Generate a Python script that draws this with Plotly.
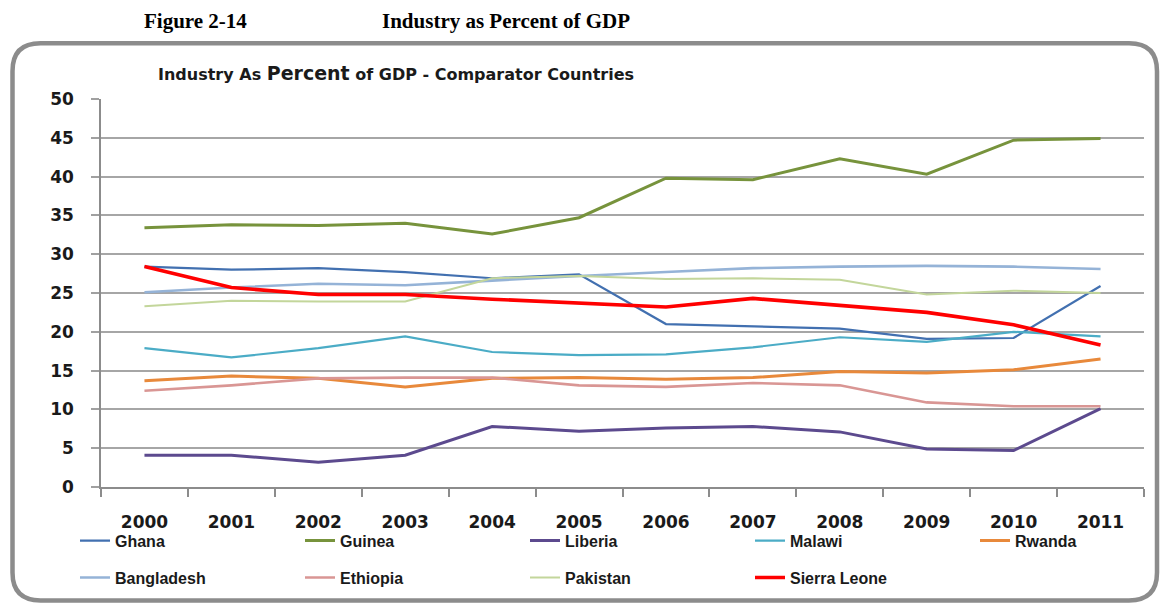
import plotly.graph_objects as go

# Industry value added as % of GDP, 2000-2011
years = ["2000", "2001", "2002", "2003", "2004", "2005",
         "2006", "2007", "2008", "2009", "2010", "2011"]

ghana = [28.4, 28.0, 28.2, 27.7, 26.9, 27.4, 21.0, 20.7, 20.4, 19.1, 19.2, 25.9]
guinea = [33.4, 33.8, 33.7, 34.0, 32.6, 34.7, 39.8, 39.6, 42.3, 40.3, 44.7, 44.9]
liberia = [4.1, 4.1, 3.2, 4.1, 7.8, 7.2, 7.6, 7.8, 7.1, 4.9, 4.7, 10.1]
malawi = [17.9, 16.7, 17.9, 19.4, 17.4, 17.0, 17.1, 18.0, 19.3, 18.7, 20.0, 19.4]
rwanda = [13.7, 14.3, 14.0, 12.9, 14.0, 14.1, 13.9, 14.1, 14.9, 14.7, 15.1, 16.5]
bangladesh = [25.1, 25.7, 26.2, 26.0, 26.6, 27.2, 27.7, 28.2, 28.4, 28.5, 28.4, 28.1]
ethiopia = [12.4, 13.1, 14.0, 14.1, 14.1, 13.1, 12.9, 13.4, 13.1, 10.9, 10.4, 10.4]
pakistan = [23.3, 24.0, 23.9, 23.9, 26.9, 27.2, 26.8, 26.9, 26.7, 24.8, 25.3, 25.0]
sierra_leone = [28.4, 25.7, 24.8, 24.8, 24.2, 23.7, 23.2, 24.3, 23.4, 22.5, 20.9, 18.3]

W, H = 1161, 607
ML, MR, MT, MB = 101, 17, 99, 118
PW, PH = W - ML - MR, H - MT - MB


def px(x):
    return (x - ML) / PW


def py(y):
    return (H - MB - y) / PH


# name, values, colour, width, legend row, legend entry width
series = [
    ("Ghana", ghana, "#4270B0", 2.2, "legend", 180),
    ("Guinea", guinea, "#77933C", 3.0, "legend", 180),
    ("Liberia", liberia, "#5C4A8E", 3.0, "legend", 180),
    ("Malawi", malawi, "#4BACC6", 2.2, "legend", 180),
    ("Rwanda", rwanda, "#E8893B", 3.0, "legend", 80),
    ("Bangladesh", bangladesh, "#95B3D7", 2.6, "legend2", 180),
    ("Ethiopia", ethiopia, "#D99694", 2.6, "legend2", 180),
    ("Pakistan", pakistan, "#C3D69B", 2.0, "legend2", 180),
    ("Sierra Leone", sierra_leone, "#FF0000", 3.6, "legend2", 120),
]

fig = go.Figure()
for name, vals, color, width, leg, lw in series:
    fig.add_trace(go.Scatter(
        x=years, y=vals, name=name, mode="lines",
        line=dict(color=color, width=width),
        legend=leg, legendwidth=lw,
    ))

# rounded frame around the chart
x0, x1, y0, y1, r = 12.5, 1157, 43, 603, 28
frame = (
    f"M {px(x0)},{py(y0 + r)} "
    f"Q {px(x0)},{py(y0)} {px(x0 + r)},{py(y0)} "
    f"L {px(x1 - r)},{py(y0)} "
    f"Q {px(x1)},{py(y0)} {px(x1)},{py(y0 + r)} "
    f"L {px(x1)},{py(y1 - r)} "
    f"Q {px(x1)},{py(y1)} {px(x1 - r)},{py(y1)} "
    f"L {px(x0 + r)},{py(y1)} "
    f"Q {px(x0)},{py(y1)} {px(x0)},{py(y1 - r)} Z"
)

legend_common = dict(
    orientation="h", xanchor="left", yanchor="middle",
    entrywidthmode="pixels",
    font=dict(family="Liberation Sans", size=16, color="#1a1a1a", weight="bold"),
    bgcolor="rgba(0,0,0,0)", itemclick=False, itemdoubleclick=False,
)

fig.update_layout(
    width=W, height=H,
    margin=dict(l=ML, r=MR, t=MT, b=MB),
    paper_bgcolor="white", plot_bgcolor="white",
    showlegend=True,
    legend=dict(x=px(75), y=py(543), **legend_common),
    legend2=dict(x=px(75), y=py(580), **legend_common),
    shapes=[dict(type="path", path=frame, xref="paper", yref="paper",
                 line=dict(color="#8C8C8C", width=4.5), layer="below")],
    annotations=[
        dict(text="<b>Figure 2-14</b>", x=px(142), y=py(21), xref="paper", yref="paper",
             xanchor="left", yanchor="middle", showarrow=False,
             font=dict(family="Liberation Serif", size=21, color="black")),
        dict(text="<b>Industry as Percent of GDP</b>", x=px(380), y=py(21), xref="paper", yref="paper",
             xanchor="left", yanchor="middle", showarrow=False,
             font=dict(family="Liberation Serif", size=21, color="black")),
        dict(text="<b>Industry As <span style='font-size:19px'>Percent</span> of GDP - Comparator Countries</b>",
             x=px(156), y=py(73), xref="paper", yref="paper",
             xanchor="left", yanchor="middle", showarrow=False,
             font=dict(family="DejaVu Sans", size=16, color="#1a1a1a")),
    ],
)

fig.update_xaxes(
    type="category", range=[-0.5, 11.5], tickson="boundaries",
    ticks="outside", ticklen=8, tickcolor="#8C8C8C", tickwidth=1.5,
    showline=True, linecolor="#8C8C8C", linewidth=1.5,
    showgrid=False, ticklabelstandoff=19,
    tickfont=dict(family="DejaVu Sans", size=17, color="#1a1a1a", weight="bold"),
)
fig.update_yaxes(
    range=[0, 50], dtick=5, ticks="outside", ticklen=8,
    tickcolor="#A0A0A0", tickwidth=1.5,
    showline=True, linecolor="#8C8C8C", linewidth=1.5,
    showgrid=True, gridcolor="#A6A6A6", gridwidth=1.5, zeroline=False,
    ticklabelstandoff=14,
    tickfont=dict(family="DejaVu Sans", size=17, color="#1a1a1a", weight="bold"),
)

fig.write_html("out.html")
